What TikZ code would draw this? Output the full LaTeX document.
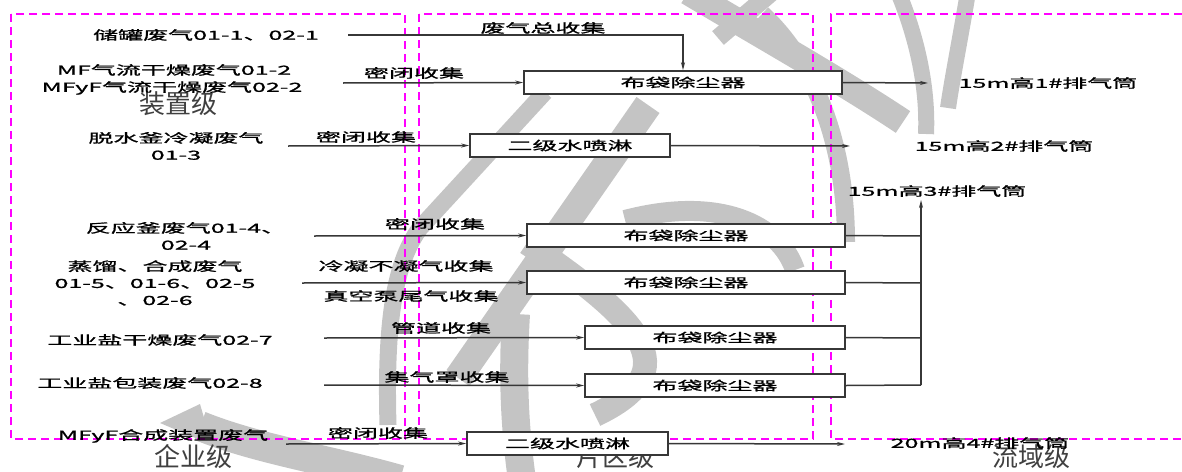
\documentclass[tikz,border=0pt]{standalone}
\usepackage{fontspec}
\usetikzlibrary{arrows.meta}
\newfontfamily\cjkw[FakeStretch=2.0,FakeBold=1.2]{Noto Sans CJK SC}
\newfontfamily\cjkn{Noto Sans CJK SC}
\definecolor{wm}{RGB}{196,196,196}
\definecolor{ln}{RGB}{55,55,55}
\definecolor{mg}{RGB}{255,0,255}
\tikzset{
  lbl/.style={font=\cjkw\fontsize{12.5}{17}\selectfont, inner sep=0pt, align=center},
  lvl/.style={font=\cjkn\fontsize{26}{28}\selectfont, inner sep=0pt, text=black!75},
  proc/.style={draw=ln, line width=1.6pt, fill=white, minimum height=23pt, inner sep=0pt,
    font=\cjkw\fontsize{12.5}{14}\selectfont},
  flow/.style={draw=ln, line width=1.5pt, -{Stealth[length=8pt,width=4pt]}},
  plain/.style={draw=ln, line width=1.5pt},
  zone/.style={draw=mg, line width=1.5pt, dash pattern=on 8pt off 5pt},
  wmark/.style={draw=wm, line width=26pt, line cap=butt}
}
\begin{document}
\begin{tikzpicture}[x=1pt,y=-1pt]
\useasboundingbox (0,0) rectangle (1182,471);
% watermark
\draw[wmark] (688,-8) .. controls (760,35) and (840,80) .. (903,122);
\draw[wmark, line width=18pt] (772,-8) -- (718,38);
\draw[wmark, line width=18pt] (762,14) .. controls (812,60) and (846,140) .. (846,242);
\draw[wmark, line width=16pt] (898,-8) .. controls (918,40) and (928,90) .. (926,134);
\draw[wmark, line width=16pt] (968,-8) .. controls (960,40) and (952,80) .. (948,108);
\draw[wmark, line width=28pt] (648,105) -- (458,378);
\draw[wmark, line width=17pt] (545,92) -- (420,228) .. controls (395,262) and (385,320) .. (388,425);
\draw[wmark, line width=20pt] (625,220) .. controls (720,195) and (780,225) .. (795,270);
\draw[wmark, line width=24pt] (527,243) .. controls (640,320) and (690,370) .. (595,415);
\draw[wmark, line width=28pt] (516,314) .. controls (512,380) and (515,430) .. (522,480);
\draw[wmark, line width=30pt] (200,426) .. controls (260,450) and (330,460) .. (400,480);
\fill[wm] (160,423) -- (200,404) -- (212,445) -- cycle;
% zones
\draw[zone] (11,14) rectangle (405,439);
\draw[zone] (419,14) rectangle (813,439);
\draw[zone] (1182,14) -- (831,14) -- (831,439) -- (1182,439);
% level labels
\node[lvl] (lv1) at (178,104) {装置级};
\node[lvl] (lv2) at (193,457) {企业级};
\node[lvl] (lv3) at (615,457) {片区级};
\node[lvl] (lv4) at (1031,457) {流域级};
% process boxes
\node[proc, minimum width=318pt] (b1) at (683,82.5) {布袋除尘器};
\node[proc, minimum width=200pt] (b2) at (570,145.5) {二级水喷淋};
\node[proc, minimum width=318pt] (b3) at (686,235.5) {布袋除尘器};
\node[proc, minimum width=318pt] (b4) at (686,282.5) {布袋除尘器};
\node[proc, minimum width=260pt] (b5) at (715,337.5) {布袋除尘器};
\node[proc, minimum width=260pt] (b6) at (715,385.5) {布袋除尘器};
\node[proc, minimum width=201pt] (b7) at (567.5,443.5) {二级水喷淋};
% source labels
\node[lbl] (t1) at (206,35) {储罐废气01-1、02-1};
\node[lbl] (t2a) at (174,70) {MF气流干燥废气01-2};
\node[lbl] (t2b) at (172,88) {MFyF气流干燥废气02-2};
\node[lbl] (t3) at (176,146) {脱水釜冷凝废气\\01-3};
\node[lbl] (t4) at (186,236) {反应釜废气01-4、\\02-4};
\node[lbl] (t5) at (155,283) {蒸馏、合成废气\\01-5、01-6、02-5\\、02-6};
\node[lbl] (t6) at (160,340) {工业盐干燥废气02-7};
\node[lbl] (t7) at (150,383) {工业盐包装废气02-8};
\node[lbl] (t8) at (163,436) {MFyF合成装置废气};
% outlet labels
\node[lbl] (r1) at (1048,83) {15m高1\#排气筒};
\node[lbl] (r2) at (1004,146) {15m高2\#排气筒};
\node[lbl] (r3) at (937,191) {15m高3\#排气筒};
\node[lbl] (r4) at (980,443) {20m高4\#排气筒};
% coordinates
\coordinate (s1) at (348,35);
\coordinate (c1) at (683,35);
\coordinate (s2) at (343,83);
\coordinate (s3) at (288,146);
\coordinate (s4) at (314,236);
\coordinate (s5) at (302,283);
\coordinate (s6) at (324,338);
\coordinate (s7) at (324,385);
\coordinate (s8) at (286,444);
\coordinate (e1) at (928,83);
\coordinate (e2) at (850,146);
\coordinate (e7) at (845,444);
\coordinate (m3) at (921,236);
\coordinate (m4) at (921,283);
\coordinate (m5) at (921,338);
\coordinate (m6) at (921,385);
\coordinate (mt) at (921,200);
% connectors
\draw[flow] (s1) -- (c1) -- (b1.north);
\draw[flow] (s2) -- (b1.west);
\draw[flow] (s3) -- (b2.west);
\draw[flow] (s4) -- (b3.west);
\draw[flow] (s5) -- (b4.west);
\draw[flow] (s6) -- (b5.west);
\draw[flow] (s7) -- (b6.west);
\draw[flow] (s8) -- (b7.west);
\draw[flow] (b1.east) -- (e1);
\draw[flow] (b2.east) -- (e2);
\draw[flow] (b7.east) -- (e7);
\draw[plain] (b3.east) -- (m3);
\draw[plain] (b4.east) -- (m4);
\draw[plain] (b5.east) -- (m5);
\draw[plain] (b6.east) -- (m6);
\draw[flow] (m6) -- (mt);
% connector labels
\node[lbl] (l1) at (543,28) {废气总收集};
\node[lbl] (l2) at (414,73) {密闭收集};
\node[lbl] (l3) at (366,137) {密闭收集};
\node[lbl] (l4) at (435,224) {密闭收集};
\node[lbl] (l5a) at (406,266) {冷凝不凝气收集};
\node[lbl] (l5b) at (411,296) {真空泵尾气收集};
\node[lbl] (l6) at (441,328) {管道收集};
\node[lbl] (l7) at (447,377) {集气罩收集};
\node[lbl] (l8) at (378,433) {密闭收集};
\end{tikzpicture}
\end{document}
